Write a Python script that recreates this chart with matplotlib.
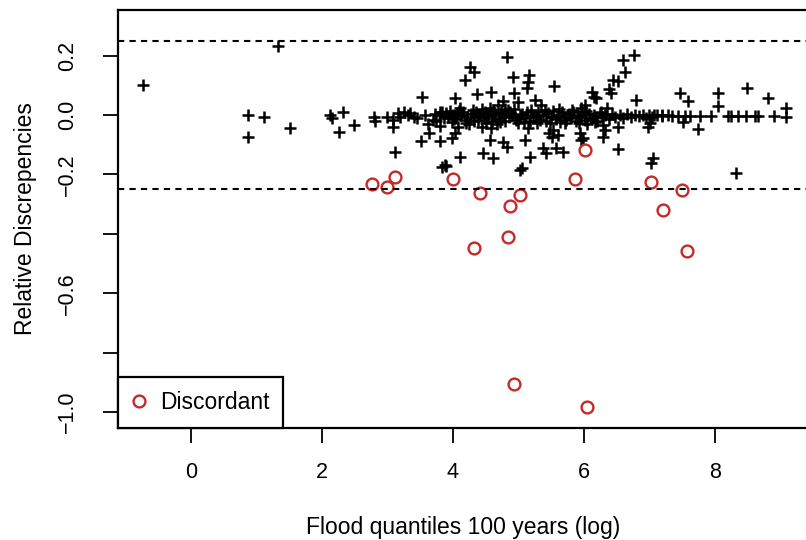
import matplotlib
matplotlib.use("Agg")
import matplotlib.pyplot as plt
from matplotlib.lines import Line2D

plt.rcParams['font.family'] = ['Liberation Sans', 'DejaVu Sans']

# Concordant sites (black crosses): flood quantile (log) and relative discrepancy
conc_x = [
    -0.73, 1.33, 0.87, 0.87, 1.12, 1.51, 2.12, 2.16, 2.32, 2.26, 2.49, 2.80, 2.81,
    2.99, 3.09, 3.08, 3.16, 3.11, 3.32, 3.34, 3.41, 3.53, 3.52, 3.64, 3.70, 3.80,
    3.80, 3.80, 3.80, 3.83, 3.88, 3.83, 3.20, 3.25, 3.45, 3.58, 3.62, 3.73, 3.75,
    3.86, 3.92, 3.95,
    4.82, 4.26, 4.33, 4.18, 4.92, 4.37, 4.58, 4.93, 4.03, 4.77, 5.00, 4.11, 4.06,
    3.90, 3.98, 4.18, 4.08, 4.39, 4.49, 4.54, 4.62, 4.69, 4.77, 4.87, 4.95, 5.02,
    4.44, 4.59, 4.03, 3.98, 4.56, 4.77, 4.82, 4.46, 4.62, 4.11, 5.02, 3.90,
    4.00, 4.05, 4.13, 4.22, 4.28, 4.33, 4.41, 4.47, 4.52, 4.60, 4.65, 4.70, 4.74,
    4.80, 4.85, 4.90, 4.97, 4.15, 4.25, 4.35, 4.45, 4.57, 4.68, 4.79, 4.94,
    5.17, 5.15, 5.14, 5.54, 6.76, 6.60, 6.63, 6.45, 6.53, 6.39, 6.42, 6.12, 6.15,
    6.80, 5.25, 5.35, 6.02, 5.96, 6.19, 6.35,
    5.53, 5.51, 5.61, 5.94, 5.96, 5.99, 5.10, 5.15, 5.37, 5.43, 5.58, 5.68, 5.18,
    5.05, 5.47,
    6.29, 6.32, 6.29, 6.52, 6.98, 6.53, 7.06, 7.02, 7.01,
    7.47, 7.59, 8.05, 8.05, 8.49, 8.81, 9.09, 9.09, 8.90,
    7.34, 7.44, 7.54, 7.62, 7.77, 7.95, 8.20, 8.25, 8.36, 8.48, 8.61, 8.66,
    7.52, 7.74, 8.33, 7.08, 7.19,
    5.05, 5.10, 5.13, 5.18, 5.22, 5.27, 5.30, 5.33, 5.38, 5.42, 5.45, 5.50, 5.53,
    5.57, 5.60, 5.63, 5.67, 5.70, 5.73, 5.77, 5.80, 5.84, 5.88, 5.91, 5.95, 5.98,
    6.02, 6.05, 6.08, 6.12, 6.15, 6.20, 6.24, 6.28, 6.33, 6.38, 6.43, 6.48, 6.55,
    6.60, 6.66, 6.72, 6.78, 6.85, 6.90, 6.95, 7.00, 7.04, 7.12, 7.20, 7.28,
    4.02, 4.09, 4.20, 4.31, 4.38, 4.50, 4.63, 4.72, 4.84, 4.99, 5.08, 5.20, 5.29,
    5.40, 5.49, 5.62, 5.72, 5.82, 5.93, 6.04, 6.17, 6.26,
]
conc_y = [
    0.100, 0.233, 0.000, -0.075, -0.005, -0.045, 0.000, -0.010, 0.011, -0.056, -0.034, -0.008, -0.019,
    -0.006, -0.017, -0.041, 0.008, -0.126, 0.000, 0.006, -0.006, 0.062, -0.088, -0.060, -0.017, 0.011,
    0.000, -0.037, -0.088, -0.174, -0.168, 0.011, -0.005, 0.010, -0.010, 0.000, -0.030, 0.005, -0.020,
    -0.010, -0.005, 0.015,
    0.196, 0.163, 0.146, 0.118, 0.129, 0.071, 0.078, 0.073, 0.056, 0.047, 0.045, 0.023, 0.006,
    0.006, -0.023, -0.017, -0.039, -0.017, 0.011, -0.011, 0.017, 0.034, 0.000, 0.011, -0.006, 0.000,
    -0.039, -0.045, -0.062, -0.078, -0.084, -0.090, -0.107, -0.129, -0.146, -0.140, -0.185, -0.172,
    0.000, -0.010, 0.000, -0.005, 0.005, -0.020, 0.000, -0.008, 0.000, -0.020, 0.000, -0.010, 0.010,
    -0.020, -0.005, 0.000, -0.015, 0.010, -0.030, 0.012, 0.020, 0.025, -0.030, 0.020, 0.020,
    0.135, 0.112, 0.090, 0.098, 0.202, 0.185, 0.146, 0.118, 0.114, 0.087, 0.073, 0.078, 0.062,
    0.050, 0.050, 0.034, 0.034, 0.023, 0.056, 0.023,
    -0.050, -0.073, -0.067, -0.062, -0.084, -0.078, -0.084, -0.045, -0.112, -0.129, -0.112, -0.124, -0.140,
    -0.179, -0.062,
    -0.034, -0.050, -0.073, -0.041, -0.039, -0.115, -0.146, -0.163, -0.028,
    0.075, 0.047, 0.076, 0.030, 0.092, 0.056, 0.023, -0.008, -0.003,
    -0.003, -0.003, -0.003, -0.003, -0.003, -0.003, -0.003, -0.003, -0.003, -0.003, -0.003, -0.003,
    -0.023, -0.048, -0.196, 0.000, 0.000,
    0.005, -0.010, 0.010, -0.020, 0.000, -0.005, 0.012, -0.015, 0.000, -0.020, 0.008, -0.005, 0.015,
    -0.012, 0.000, -0.022, 0.010, -0.005, -0.018, 0.005, -0.010, 0.012, -0.020, 0.000, -0.008, 0.010,
    -0.015, -0.030, 0.005, -0.010, 0.000, -0.020, 0.008, -0.005, 0.000, -0.012, 0.004, -0.008, 0.000,
    -0.010, 0.002, -0.006, 0.000, -0.004, 0.000, -0.010, 0.000, -0.005, 0.000, -0.003, 0.000,
    -0.012, 0.014, -0.025, 0.018, -0.008, -0.028, 0.006, -0.022, 0.016, -0.026, -0.024, 0.018, -0.026,
    0.016, -0.028, 0.020, -0.028, 0.018, -0.026, 0.014, -0.024, 0.012,
]

# Discordant sites (red circles)
disc_x = [2.76, 2.99, 3.11, 4.00, 4.42, 4.88, 5.03, 5.86, 6.02, 7.02, 7.21, 7.50,
          4.33, 4.84, 7.57, 4.94, 6.05]
disc_y = [-0.231, -0.241, -0.208, -0.216, -0.262, -0.306, -0.268, -0.216, -0.118,
          -0.225, -0.320, -0.253, -0.447, -0.410, -0.458, -0.905, -0.984]

threshold = 0.25
yticks = [0.2, 0.0, -0.2, -0.4, -0.6, -0.8, -1.0]
ytick_labels = ["0.2", "0.0", "\u22120.2", "", "\u22120.6", "", "\u22121.0"]
xticks = [0, 2, 4, 6, 8]

W, H = 806, 540
fig = plt.figure(figsize=(W / 100, H / 100), dpi=100)
ax = fig.add_axes([118 / W, (H - 428) / H, (809 - 118) / W, (428 - 10) / H])

ax.plot(conc_x, conc_y, linestyle='none', marker='+', color='black',
        markersize=9, markeredgewidth=1.8)
ax.plot(disc_x, disc_y, linestyle='none', marker='o', markerfacecolor='none',
        markeredgecolor='#c42a2a', markersize=8.5, markeredgewidth=1.7)

ax.axhline(threshold, color='black', linestyle=(0, (3, 2.5)), linewidth=1.5)
ax.axhline(-threshold, color='black', linestyle=(0, (3, 2.5)), linewidth=1.5)

ax.set_xlim(-1.115, 9.44)
ax.set_ylim(-1.054, 0.354)

ax.set_xticks(xticks)
ax.set_xticklabels([str(t) for t in xticks])
ax.set_yticks(yticks)
ax.set_yticklabels(ytick_labels, rotation=90, va='center')

ax.tick_params(axis='both', direction='out', length=10.5, width=1.3, colors='black',
               labelsize=15.5)
ax.tick_params(axis='x', pad=14)
ax.tick_params(axis='y', pad=18)
for s in ax.spines.values():
    s.set_linewidth(1.6)

ax.set_xlabel("Flood quantiles 100 years (log)", fontsize=16.5, labelpad=24)
ax.set_ylabel("Relative Discrepencies", fontsize=16.5, labelpad=15)

handle = Line2D([], [], linestyle='none', marker='o', markerfacecolor='none',
                markeredgecolor='#c42a2a', markersize=8.5, markeredgewidth=1.7)
leg = ax.legend([handle], ["Discordant"], loc='lower left', bbox_to_anchor=(0, 0),
                borderaxespad=0, fancybox=False, framealpha=1, edgecolor='black',
                fontsize=16.5, handlelength=0.6,
                handletextpad=0.6, borderpad=0.62)
leg.get_frame().set_linewidth(1.6)

fig.savefig("out.png", dpi=100)
